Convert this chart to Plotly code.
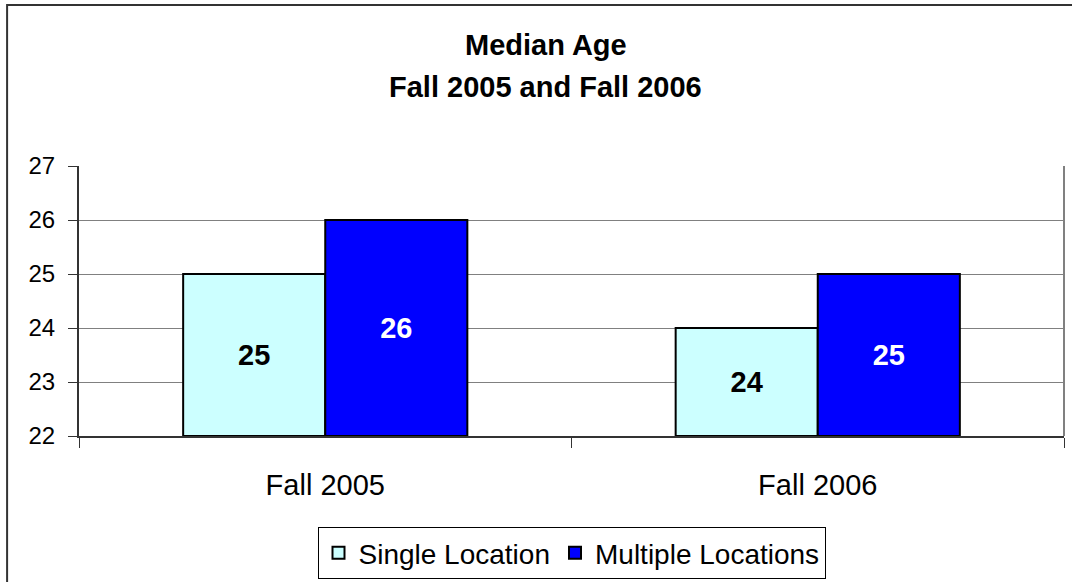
import plotly.graph_objects as go

# median age data
terms = ['Fall 2005', 'Fall 2006']
single_location = [25, 24]
multiple_locations = [26, 25]
y_ticks = [22, 23, 24, 25, 26, 27]
y_floor = 22  # value axis starts here, bars grow up from it
title_lines = ['Median Age', 'Fall 2005 and Fall 2006']

FONT = 'Liberation Sans, Arial, sans-serif'


def bar_trace(values, name, fill, text_color):
    return go.Bar(
        x=terms,
        y=[v - y_floor for v in values],
        base=y_floor,
        name=name,
        text=values,
        marker=dict(color=fill, line=dict(color='black', width=2)),
        texttemplate='<b>%{text}</b>',
        textposition='inside',
        insidetextanchor='middle',
        textangle=0,
        textfont=dict(color=text_color, size=29, family=FONT),
    )


fig = go.Figure()
fig.add_trace(bar_trace(single_location, 'Single Location', '#CCFFFF', 'black'))
fig.add_trace(bar_trace(multiple_locations, 'Multiple Locations', '#0000FF', 'white'))

fig.update_layout(
    width=1072,
    height=582,
    margin=dict(l=79, r=8, t=166, b=146, autoexpand=False),
    paper_bgcolor='white',
    plot_bgcolor='white',
    font=dict(family=FONT, size=24, color='black'),
    barmode='group',
    bargap=0.423,
    bargroupgap=0,
    uniformtext=dict(mode='show', minsize=10),
    legend=dict(
        orientation='h',
        x=0.5, xanchor='center',
        y=-0.337, yanchor='top',
        bordercolor='black',
        borderwidth=1,
        font=dict(size=28, family=FONT),
        itemsizing='constant',
        itemwidth=30,
    ),
    showlegend=True,
)

# two-line bold title, placed as annotations to get the wider line spacing
for text, ypos in zip(title_lines, [1.448, 1.293]):
    fig.add_annotation(
        text='<b>' + text + '</b>',
        xref='paper', yref='paper',
        x=0.474, y=ypos,
        xanchor='center', yanchor='middle',
        showarrow=False,
        font=dict(size=29, family=FONT, color='black'),
    )

fig.update_yaxes(
    range=[22, 27],
    tickvals=y_ticks,
    showgrid=True,
    gridcolor='#808080',
    gridwidth=1,
    showline=True,
    linecolor='#333333',
    linewidth=2,
    ticks='outside',
    ticklen=9,
    tickcolor='#333333',
    tickfont=dict(size=24),
    ticklabelstandoff=8,
    zeroline=False,
)

fig.update_xaxes(
    showline=True,
    linecolor='#333333',
    linewidth=2,
    ticks='outside',
    tickson='boundaries',
    ticklen=10,
    tickcolor='#333333',
    tickfont=dict(size=29),
    ticklabelstandoff=22,
    showgrid=False,
)

fig.update_layout(shapes=[
    # right edge of plot area
    dict(type='line', xref='paper', yref='paper', x0=1, x1=1, y0=0, y1=1,
         line=dict(color='#808080', width=2)),
    # outer chart border
    dict(type='rect', xref='paper', yref='paper', x0=-0.073, x1=1.2, y0=-1.0, y1=1.596,
         line=dict(color='#333333', width=2), layer='above'),
])

# drop the default body margin so the chart sits at the top-left corner
fig.write_html('out.html', config={'displayModeBar': False},
               post_script="document.body.style.margin='0';")
